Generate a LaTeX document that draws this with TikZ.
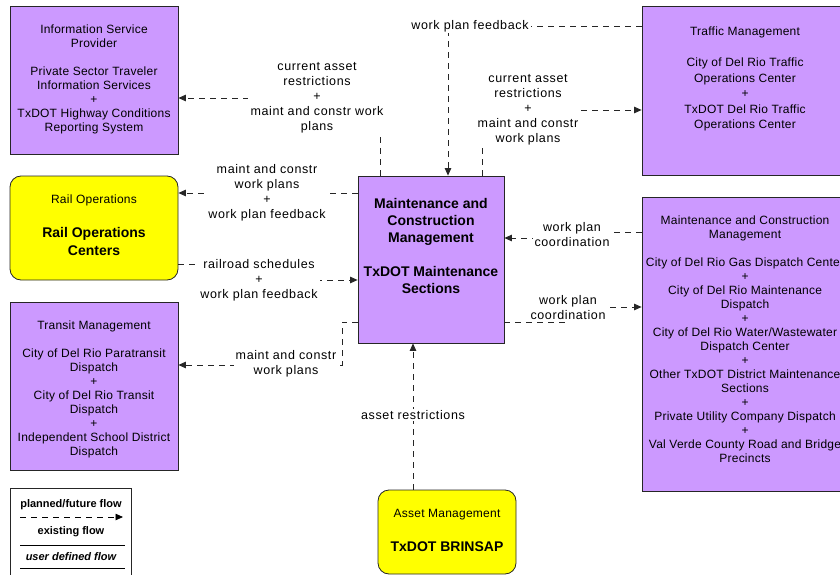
\documentclass[tikz,border=0pt]{standalone}
\usepackage{fontspec}
\setmainfont{Liberation Sans}
\newfontfamily\lblfont{Liberation Sans}[LetterSpace=5]
\newfontfamily\boxfont{Liberation Sans}[LetterSpace=2]
\usetikzlibrary{arrows.meta}
\definecolor{boxpurple}{HTML}{CC99FF}
\definecolor{boxyellow}{HTML}{FFFF00}
\begin{document}
\begin{tikzpicture}[x=1pt,y=-1pt,
  pbox/.style={draw=black!85, line width=0.8pt, fill=boxpurple, rectangle, inner sep=0pt},
  ybox/.style={draw=black!85, line width=0.8pt, fill=boxyellow, rectangle, rounded corners=11pt, inner sep=0pt},
  txt/.style={align=center, font=\boxfont\fontsize{12}{14}\selectfont, inner sep=0pt},
  btxt/.style={align=center, font=\fontsize{14}{17}\selectfont\bfseries, inner sep=0pt},
  lbl/.style={align=center, fill=white, font=\lblfont\fontsize{12.5}{15}\selectfont, inner xsep=2pt, inner ysep=1pt},
  flow/.style={draw=black!85, line width=0.8pt, dash pattern=on 6pt off 5pt, -{Triangle[length=7.5pt,width=6.5pt]}},
  legtxt/.style={font=\fontsize{11}{13}\selectfont\bfseries, inner sep=0pt}
]
\useasboundingbox (0,0) rectangle (840,575);
\clip (0,0) rectangle (840,575);

% ---- boxes ----
\node[pbox, minimum width=168pt, minimum height=148pt] (isp) at (94,80) {};
\node[ybox, minimum width=168pt, minimum height=104pt] (rail) at (94,228) {};
\node[pbox, minimum width=168pt, minimum height=168pt] (tran) at (94,386) {};
\node[pbox, minimum width=146pt, minimum height=167pt] (cm) at (431,259.5) {};
\node[pbox, minimum width=207pt, minimum height=169pt] (tm) at (745.5,90.5) {};
\node[pbox, minimum width=207pt, minimum height=294pt] (mcm) at (745.5,344) {};
\node[ybox, minimum width=138pt, minimum height=84pt] (am) at (447,532) {};

% ---- box texts ----
\node[txt] (ispt) at (94,79.5) {Information Service\\Provider\\[14pt]Private Sector Traveler\\Information Services\\+\\TxDOT Highway Conditions\\Reporting System};
\node[txt] (railt1) at (94,200) {Rail Operations};
\node[btxt, font=\fontsize{14}{18}\selectfont\bfseries] (railt2) at (94,241) {Rail Operations\\Centers};
\node[txt] (trant) at (94,389) {Transit Management\\[14pt]City of Del Rio Paratransit\\Dispatch\\+\\City of Del Rio Transit\\Dispatch\\+\\Independent School District\\Dispatch};
\node[btxt] (cmt) at (431,245.5) {Maintenance and\\Construction\\Management\\[17pt]TxDOT Maintenance\\Sections};
\node[txt, font=\boxfont\fontsize{12}{15.6}\selectfont] (tmt) at (745,79) {Traffic Management\\[15.6pt]City of Del Rio Traffic\\Operations Center\\+\\TxDOT Del Rio Traffic\\Operations Center};
\node[txt] (mcmt) at (745,339.5) {Maintenance and Construction\\Management\\[14pt]City of Del Rio Gas Dispatch Center\\+\\City of Del Rio Maintenance\\Dispatch\\+\\City of Del Rio Water/Wastewater\\Dispatch Center\\+\\Other TxDOT District Maintenance\\Sections\\+\\Private Utility Company Dispatch\\+\\Val Verde County Road and Bridge\\Precincts};
\node[txt] (amt1) at (447,515) {Asset Management};
\node[btxt] (amt2) at (447,547) {TxDOT BRINSAP};

% ---- connector corner coordinates ----
\coordinate (c1) at (380,98);
\coordinate (c2) at (448,26);
\coordinate (c3) at (482,110);
\coordinate (c4) at (268,193);
\coordinate (c5a) at (259,264);
\coordinate (c5b) at (259,280);
\coordinate (c6a) at (572,232);
\coordinate (c6b) at (572,238);
\coordinate (c7a) at (568,322);
\coordinate (c7b) at (568,307);
\coordinate (c8a) at (342,322);
\coordinate (c8b) at (342,365);
\coordinate (c9) at (413,415);

% ---- connectors ----
\draw[flow] (cm.north -| c1) -- (c1) -- (isp.east |- c1);
\draw[flow] (tm.west |- c2) -- (c2) -- (cm.north -| c2);
\draw[flow] (cm.north -| c3) -- (c3) -- (tm.west |- c3);
\draw[flow] (cm.west |- c4) -- (rail.east |- c4);
\draw[flow] (rail.east |- c5a) -- (c5a) -- (c5b) -- (cm.west |- c5b);
\draw[flow] (mcm.west |- c6a) -- (c6a) -- (c6b) -- (cm.east |- c6b);
\draw[flow] (cm.east |- c7a) -- (c7a) -- (c7b) -- (mcm.west |- c7b);
\draw[flow] (cm.west |- c8a) -- (c8a) -- (c8b) -- (tran.east |- c8b);
\draw[flow] (am.north -| c9) -- (cm.south -| c9);

% ---- connector labels ----
\node[lbl, inner xsep=3pt] (l1) at (317,98) {current asset\\restrictions\\+\\maint and constr work\\plans};
\node[lbl] (l2) at (470,26) {work plan feedback};
\node[lbl, inner xsep=3pt] (l3) at (528,110) {current asset\\restrictions\\+\\maint and constr\\work plans};
\node[lbl] (l4) at (267,193) {maint and constr\\work plans\\+\\work plan feedback};
\node[lbl] (l5) at (259,280) {railroad schedules\\+\\work plan feedback};
\node[lbl] (l6) at (572,235) {work plan\\coordination};
\node[lbl] (l7) at (568,308) {work plan\\coordination};
\node[lbl] (l8) at (286,364) {maint and constr\\work plans};
\node[lbl] (l9) at (413,415) {asset restrictions};

% ---- legend ----
\node[draw=black!85, line width=0.8pt, fill=white, minimum width=121pt, minimum height=100pt, inner sep=0pt] (leg) at (70.5,538) {};
\node[legtxt] (lg1) at (71,505) {planned/future flow};
\coordinate (la1) at (20,517);
\coordinate (la2) at (123,517);
\draw[flow, draw=black] (la1) -- (la2);
\node[legtxt] (lg2) at (71,532) {existing flow};
\coordinate (lb1) at (20,545);
\coordinate (lb2) at (125,545);
\draw[line width=0.8pt] (lb1) -- (lb2);
\node[legtxt, font=\fontsize{11}{13}\selectfont\bfseries\itshape] (lg3) at (71,557) {user defined flow};
\coordinate (lc1) at (20,568);
\coordinate (lc2) at (125,568);
\draw[line width=0.8pt] (lc1) -- (lc2);
\end{tikzpicture}
\end{document}
